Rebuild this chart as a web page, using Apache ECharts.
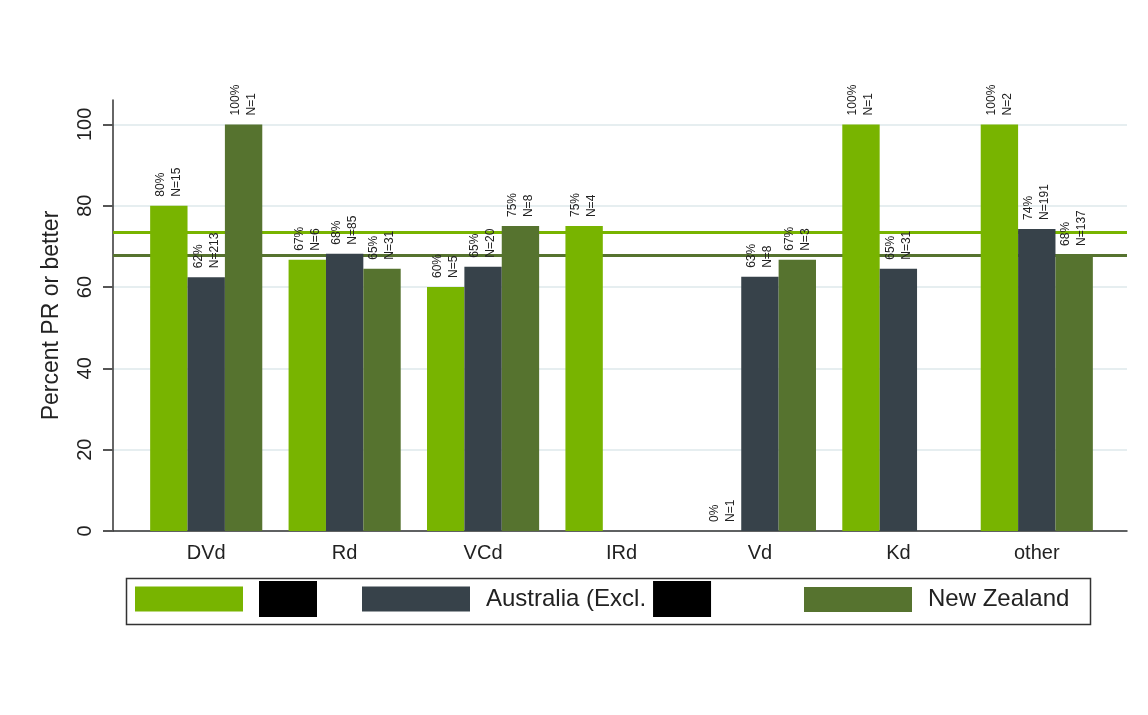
<!DOCTYPE html>
<html><head><meta charset="utf-8">
<script src="https://cdn.jsdelivr.net/npm/echarts@6/dist/echarts.min.js"></script>
<style>html,body{margin:0;padding:0;background:#fff}#c{width:1148px;height:715px}</style>
</head><body><div id="c"></div>
<script>
const categories = ['DVd', 'Rd', 'VCd', 'IRd', 'Vd', 'Kd', 'other'];
const seriesNames = ['[redacted]', 'Australia (Excl. [redacted])', 'New Zealand'];
const regionValues = [80, 66.7, 60, 75, 0, 100, 100];
const regionN = [15, 6, 5, 4, 1, 1, 2];
const australiaValues = [62.4, 68.2, 65, null, 62.5, 64.5, 74.3];
const australiaN = [213, 85, 20, null, 8, 31, 191];
const nzValues = [100, 64.5, 75, null, 66.7, null, 67.9];
const nzN = [1, 31, 8, null, 3, null, 137];
const referenceLines = [73.4, 67.7];
const yTicks = [0, 20, 40, 60, 80, 100];

const F = '"Liberation Sans", Arial, sans-serif';
const colors = ['#78b400', '#37424a', '#56732f'];
const gridColor = '#e6eef0';

function barSeries(i, values, ns) {
  return {
    type: 'bar', name: seriesNames[i], xAxisIndex: 1, yAxisIndex: 1, z: 3,
    data: values.map(v => v == null ? '-' : v),
    barGap: '0%', barCategoryGap: '19%',
    itemStyle: { color: colors[i] },
    label: {
      show: true, position: 'top', rotate: 90, distance: 9,
      align: 'left', verticalAlign: 'middle',
      fontFamily: F, fontSize: 12, lineHeight: 16, color: '#222',
      formatter: p => Math.round(p.value) + '%\nN=' + ns[p.dataIndex]
    }
  };
}

const legendBase = {
  orient: 'horizontal', itemWidth: 108, itemHeight: 25, icon: 'rect',
  selectedMode: false, padding: 0,
  itemStyle: { borderWidth: 0 },
  textStyle: {
    fontFamily: F, fontSize: 24, color: '#222',
    rich: {
      sp: { width: 11, fontSize: 24 },
      sp2: { width: 7, fontSize: 24 },
      box: { backgroundColor: '#000', color: '#000', width: 58, height: 36, fontSize: 24 }
    }
  }
};

const chart = echarts.init(document.getElementById('c'), null, { renderer: 'canvas' });
chart.setOption({
  animation: false,
  backgroundColor: '#fff',
  grid: [
    { left: 113, right: 21, top: 100, bottom: 184 },
    { left: 137, right: 42, top: 100, bottom: 184 }
  ],
  xAxis: [
    { type: 'value', gridIndex: 0, min: 0, max: 1,
      axisLine: { show: true, onZero: true, lineStyle: { color: '#333', width: 1.5 } },
      axisTick: { show: false }, axisLabel: { show: false }, splitLine: { show: false } },
    { type: 'category', gridIndex: 1, data: categories,
      axisLine: { show: false }, axisTick: { show: false },
      axisLabel: { fontFamily: F, fontSize: 20, color: '#222', margin: 12 } }
  ],
  yAxis: [
    { type: 'value', gridIndex: 0, min: 0, max: 106, interval: 20,
      name: 'Percent PR or better', nameLocation: 'middle', nameGap: 50, nameRotate: 90,
      nameTextStyle: { fontFamily: F, fontSize: 23, color: '#222' },
      axisLine: { show: true, lineStyle: { color: '#333', width: 1.5 } },
      axisTick: { show: true, length: 10, customValues: yTicks, lineStyle: { color: '#555', width: 2 } },
      axisLabel: { customValues: yTicks, rotate: 90, margin: 18, fontFamily: F, fontSize: 20, color: '#222' },
      splitLine: { show: true, lineStyle: { color: [gridColor, gridColor, gridColor, gridColor, gridColor, gridColor, 'rgba(0,0,0,0)'], width: 2 } } },
    { type: 'value', gridIndex: 1, min: 0, max: 106, show: false, splitLine: { show: false } }
  ],
  legend: [
    Object.assign({}, legendBase, { left: 135, top: 581, data: [seriesNames[0]], formatter: () => '{sp| }{box| }' }),
    Object.assign({}, legendBase, { left: 362, top: 581, data: [seriesNames[1]], formatter: () => '{sp| }Australia (Excl.{sp2| }{box| }' }),
    Object.assign({}, legendBase, { left: 804, top: 587, data: [seriesNames[2]], formatter: n => '{sp| }' + n })
  ],
  graphic: [
    { type: 'rect', left: 124, top: 576, z: -1, shape: { width: 964, height: 46 },
      style: { fill: 'none', stroke: '#333', lineWidth: 1.5 } }
  ],
  series: [
    { type: 'line', xAxisIndex: 0, yAxisIndex: 0, data: [], z: 1, silent: true,
      markLine: { symbol: 'none', silent: true, z: 1, label: { show: false }, animation: false,
        data: referenceLines.map((v, i) => ({ yAxis: v, lineStyle: { color: colors[i === 0 ? 0 : 2], width: 3, type: 'solid' } })) } },
    barSeries(0, regionValues, regionN),
    barSeries(1, australiaValues, australiaN),
    barSeries(2, nzValues, nzN)
  ]
});
</script></body></html>
